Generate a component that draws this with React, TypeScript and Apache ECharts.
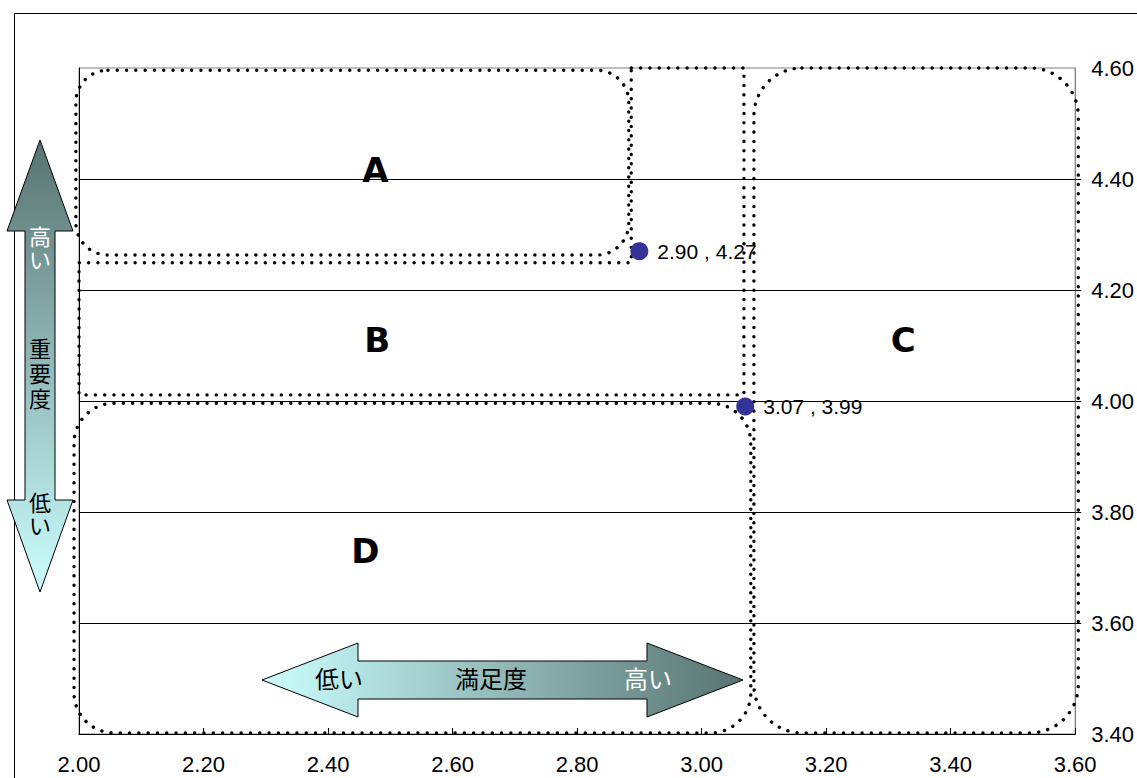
import React, { useEffect, useRef } from 'react';
import * as echarts from 'echarts';

// data points (satisfaction, importance)
const satisfaction = [2.9, 3.07];
const importance = [4.27, 3.99];

// region letters and their positions in data space
const regionNames = ['A', 'B', 'C', 'D'];
const regionLabelX = [2.476, 2.479, 3.324, 2.46];
const regionLabelY = [4.416, 4.11, 4.11, 3.73];

// rounded region outlines: [xMin, yMin, xMax, yMax]
const boxA = [1.995, 4.263, 2.883, 4.596];
const boxC = [3.084, 3.402, 3.605, 4.6];
const boxD = [1.992, 3.402, 3.079, 3.996];
// L-shaped region B outline
const regionBx = [2.887, 3.068, 3.068, 2.0, 2.0, 2.887];
const regionBy = [4.6, 4.6, 4.011, 4.011, 4.249, 4.249];

const X_MIN = 2.0;
const X_MAX = 3.6;
const X_STEP = 0.2;
const Y_MIN = 3.4;
const Y_MAX = 4.6;
const Y_STEP = 0.2;
const Y_TICKS = [3.6, 3.8, 4.0, 4.2, 4.4];

// arrow captions
const vCaptionChars = ['高', 'い', '重', '要', '度', '低', 'い'];
const hCaptions = ['低い', '満足度', '高い'];

const boxRadii = [32, 48, 40];

const LATIN = '"Liberation Sans", Arial, sans-serif';
const JP = '"Noto Sans CJK JP", sans-serif';
const JP_TIGHT = '"Liberation Sans", "Noto Sans CJK JP", sans-serif';

const dotted = {
  fill: 'none',
  stroke: '#000',
  lineWidth: 3.4,
  lineDash: [0.1, 9.2],
  lineCap: 'round',
};

export default function App() {
  const ref = useRef<HTMLDivElement>(null);
  useEffect(() => {
    if (!ref.current) return;
    const chart = echarts.init(ref.current, undefined, { renderer: 'svg' });
    const dark = '#577371';
    const light = '#ccffff';
    const vGrad = new echarts.graphic.LinearGradient(0, 0, 0, 1, [
      { offset: 0, color: dark },
      { offset: 1, color: light },
    ]);
    const hGrad = new echarts.graphic.LinearGradient(0, 0, 1, 0, [
      { offset: 0, color: light },
      { offset: 1, color: dark },
    ]);
    const jpText = (x: number, y: number, text: string, fill: string, size: number, family: string, lh?: number) => ({
      type: 'text',
      x,
      y,
      z: 20,
      style: {
        text,
        fill,
        fontSize: size,
        fontFamily: family,
        align: 'center',
        verticalAlign: 'middle',
        ...(lh ? { lineHeight: lh } : {}),
      },
    });

    const vY = [237, 260, 349, 374, 399, 503, 526];
    const vFill = ['#fff', '#fff', '#000', '#000', '#000', '#000', '#000'];
    const hX = [339, 491, 648];
    const hFill = ['#000', '#000', '#fff'];

    const boxes = [boxA, boxC, boxD];

    chart.setOption({
      animation: false,
      backgroundColor: '#fff',
      grid: {
        left: 79,
        top: 68,
        right: 60,
        bottom: 44,
        show: true,
        borderColor: '#808080',
        borderWidth: 1,
        backgroundColor: 'transparent',
      },
      xAxis: {
        type: 'value',
        min: X_MIN,
        max: X_MAX,
        interval: X_STEP,
        axisLine: { show: true, lineStyle: { color: '#000', width: 1 } },
        axisTick: { show: true, inside: true, length: 6, lineStyle: { color: '#000' } },
        axisLabel: {
          margin: 19,
          fontSize: 22,
          color: '#000',
          fontFamily: LATIN,
          formatter: (v: number) => v.toFixed(2),
        },
        splitLine: { show: false },
      },
      yAxis: [
        {
          type: 'value',
          position: 'right',
          min: Y_MIN,
          max: Y_MAX,
          interval: Y_STEP,
          axisLine: { show: true, lineStyle: { color: '#808080', width: 1 } },
          axisTick: {
            show: true,
            inside: false,
            length: 6,
            customValues: Y_TICKS,
            lineStyle: { color: '#000' },
          },
          axisLabel: {
            margin: 16,
            fontSize: 22,
            color: '#000',
            fontFamily: LATIN,
            formatter: (v: number) => v.toFixed(2),
          },
          splitLine: {
            show: true,
            lineStyle: { color: '#000', width: 1 },
          },
        },
        {
          type: 'value',
          position: 'left',
          min: Y_MIN,
          max: Y_MAX,
          interval: Y_STEP,
          axisLine: { show: true, lineStyle: { color: '#000', width: 1 } },
          axisTick: { show: false },
          axisLabel: { show: false },
          splitLine: { show: false },
        },
      ],
      series: [
        {
          type: 'custom',
          clip: false,
          z: 5,
          encode: { x: [0, 2], y: [1, 3] },
          data: boxes,
          renderItem: (params: any, api: any) => {
            const x0 = api.value(0);
            const y0 = api.value(1);
            const x1 = api.value(2);
            const y1 = api.value(3);
            const tl = api.coord([x0, y1]);
            const br = api.coord([x1, y0]);
            return {
              type: 'rect',
              shape: {
                x: tl[0],
                y: tl[1],
                width: br[0] - tl[0],
                height: br[1] - tl[1],
                r: boxRadii[params.dataIndex],
              },
              style: dotted,
            };
          },
        },
        {
          type: 'custom',
          clip: false,
          z: 5,
          data: regionBx.map((x, i) => [x, regionBy[i]]),
          renderItem: (params: any, api: any) => {
            if (params.dataIndex !== 0) return null;
            const pts = regionBx.map((x, i) => api.coord([x, regionBy[i]]));
            return {
              type: 'polygon',
              shape: { points: pts },
              style: dotted,
            };
          },
        },
        {
          type: 'scatter',
          z: 8,
          symbolSize: 0,
          silent: true,
          itemStyle: { opacity: 1 },
          data: regionNames.map((n, i) => ({ name: n, value: [regionLabelX[i], regionLabelY[i]] })),
          label: {
            show: true,
            position: 'inside',
            formatter: (p: any) => p.name,
            fontSize: 34,
            fontWeight: 'bold',
            color: '#000',
            fontFamily: '"DejaVu Sans", sans-serif',
          },
        },
        {
          type: 'scatter',
          z: 10,
          symbol: 'circle',
          symbolSize: 18,
          itemStyle: { color: '#333399', opacity: 1 },
          data: satisfaction.map((x, i) => [x, importance[i]]),
          label: {
            show: true,
            position: 'right',
            distance: 9,
            fontSize: 21,
            color: '#000',
            fontFamily: LATIN,
            formatter: (p: any) => `${p.value[0].toFixed(2)} , ${p.value[1].toFixed(2)}`,
          },
        },
      ],
      graphic: [
        {
          type: 'rect',
          z: 0,
          shape: { x: 14.5, y: 13.5, width: 1200, height: 800 },
          style: { fill: 'none', stroke: '#000', lineWidth: 1 },
        },
        {
          type: 'polygon',
          z: 15,
          shape: {
            points: [
              [40, 140], [73, 231], [55, 231], [55, 500], [73, 500],
              [40, 592], [7, 500], [25, 500], [25, 231], [7, 231],
            ],
          },
          style: { fill: vGrad, stroke: '#000', lineWidth: 1 },
        },
        {
          type: 'polygon',
          z: 15,
          shape: {
            points: [
              [262, 680], [358, 643], [358, 661], [647, 661], [647, 643],
              [743, 680], [647, 717], [647, 699], [358, 699], [358, 717],
            ],
          },
          style: { fill: hGrad, stroke: '#000', lineWidth: 1 },
        },
        ...vCaptionChars.map((c, i) => jpText(40, vY[i], c, vFill[i], 22, JP_TIGHT, 20)),
        ...hCaptions.map((c, i) => jpText(hX[i], 677, c, hFill[i], 24, JP)),
      ],
    });
    return () => chart.dispose();
  }, []);
  return (
    <div
      ref={ref}
      style={{ position: 'absolute', left: 0, top: 0, width: 1137, height: 778 }}
    />
  );
}
